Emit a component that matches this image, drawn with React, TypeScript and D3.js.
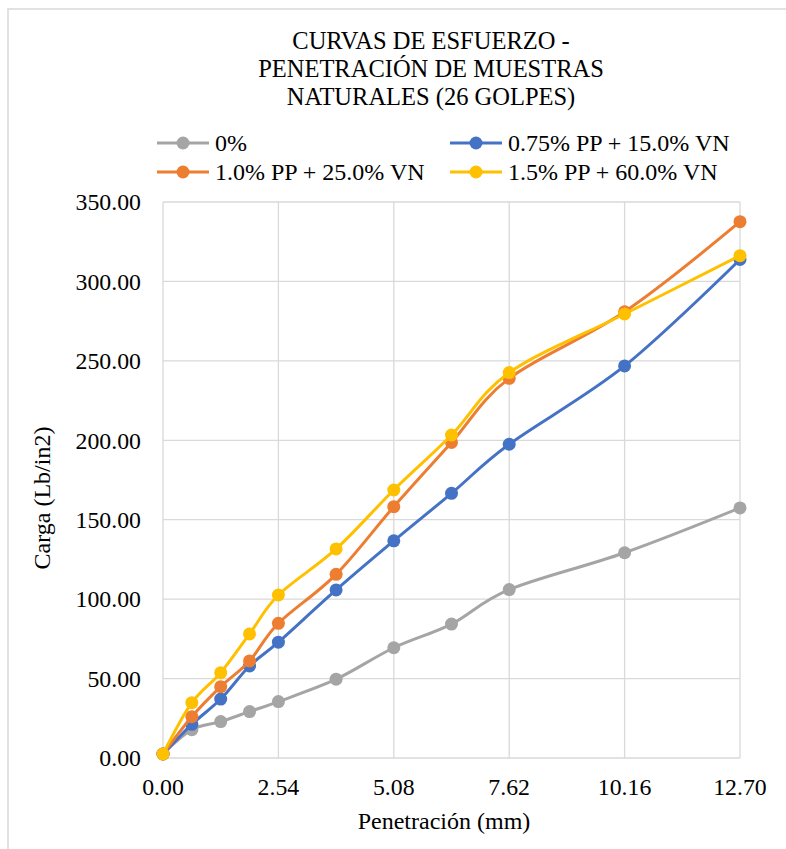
import React from "react";
import * as d3 from "d3";

const penetration = [0, 0.635, 1.27, 1.905, 2.54, 3.81, 5.08, 6.35, 7.62, 10.16, 12.7];
const seriesNames = ["0%", "0.75% PP + 15.0% VN", "1.0% PP + 25.0% VN", "1.5% PP + 60.0% VN"];
const seriesColors = ["#A5A5A5", "#4472C4", "#ED7D31", "#FFC000"];
const load0 = [2.5, 17.8, 22.9, 29.2, 35.5, 49.6, 69.4, 84.3, 106.0, 129.2, 157.4];
const load075 = [2.5, 21.2, 37.1, 57.9, 72.9, 105.8, 136.7, 166.6, 197.5, 246.8, 313.8];
const load10 = [2.5, 26.0, 44.9, 61.1, 84.8, 115.6, 158.2, 198.6, 239.0, 280.9, 337.6];
const load15 = [2.5, 34.8, 53.7, 78.1, 102.6, 131.6, 168.7, 203.3, 242.6, 279.5, 316.2];
const xTicks = [0, 2.54, 5.08, 7.62, 10.16, 12.7];
const yTicks = [0, 50, 100, 150, 200, 250, 300, 350];
const titleLines = ["CURVAS DE ESFUERZO -", "PENETRACIÓN DE MUESTRAS", "NATURALES (26 GOLPES)"];

const allSeries = [load0, load075, load10, load15];

export default function App() {
  const left = 163, right = 740, top = 202, bottom = 758;
  const x = d3.scaleLinear().domain([0, 12.7]).range([left, right]);
  const y = d3.scaleLinear().domain([0, 350]).range([bottom, top]);
  const line = d3
    .line<number>()
    .x((_, i) => x(penetration[i]))
    .y((d) => y(d))
    .curve(d3.curveCardinal.tension(0));
  const font = "'Liberation Serif', 'Times New Roman', serif";
  const grid = "#D9D9D9";
  const legendPos = [
    { lx: 157, tx: 215, y: 143 },
    { lx: 450, tx: 508, y: 143 },
    { lx: 157, tx: 215, y: 172 },
    { lx: 450, tx: 508, y: 172 },
  ];
  return (
    <svg
      width={786}
      height={849}
      style={{ position: "absolute", left: 0, top: 0, background: "#fff", fontFamily: font }}
    >
      <rect x={8} y={9} width={800} height={860} fill="#fff" stroke={grid} strokeWidth={1.5} />
      {titleLines.map((t, i) => (
        <text key={t} x={431} y={49 + i * 28} textAnchor="middle" fontSize={24.5} fill="#000">
          {t}
        </text>
      ))}
      {yTicks.map((v) => (
        <line key={"gy" + v} x1={left} x2={right} y1={y(v)} y2={y(v)} stroke={grid} strokeWidth={1.3} />
      ))}
      {xTicks.map((v) => (
        <line key={"gx" + v} x1={x(v)} x2={x(v)} y1={top} y2={bottom} stroke={grid} strokeWidth={1.3} />
      ))}
      {yTicks.map((v) => (
        <text key={"ty" + v} x={141} y={y(v)} dy="0.35em" textAnchor="end" fontSize={23.8} fill="#000">
          {v.toFixed(2)}
        </text>
      ))}
      {xTicks.map((v) => (
        <text key={"tx" + v} x={x(v)} y={795} textAnchor="middle" fontSize={23.8} fill="#000">
          {v.toFixed(2)}
        </text>
      ))}
      <text x={444} y={829} textAnchor="middle" fontSize={24} fill="#000">
        Penetración (mm)
      </text>
      <text
        transform="translate(50,498) rotate(-90)"
        textAnchor="middle"
        fontSize={24}
        fill="#000"
      >
        Carga (Lb/in2)
      </text>
      {allSeries.map((s, si) => (
        <g key={"s" + si}>
          <path d={line(s) || ""} fill="none" stroke={seriesColors[si]} strokeWidth={3} strokeLinejoin="round" />
          {s.map((v, i) => (
            <circle key={i} cx={x(penetration[i])} cy={y(v)} r={6.5} fill={seriesColors[si]} />
          ))}
        </g>
      ))}
      {seriesNames.map((n, i) => {
        const p = legendPos[i];
        return (
          <g key={"l" + n}>
            <line x1={p.lx} x2={p.lx + 52} y1={p.y} y2={p.y} stroke={seriesColors[i]} strokeWidth={3} />
            <circle cx={p.lx + 26} cy={p.y} r={6.5} fill={seriesColors[i]} />
            <text x={p.tx} y={p.y} dy="0.35em" fontSize={24} fill="#000">
              {n}
            </text>
          </g>
        );
      })}
    </svg>
  );
}
